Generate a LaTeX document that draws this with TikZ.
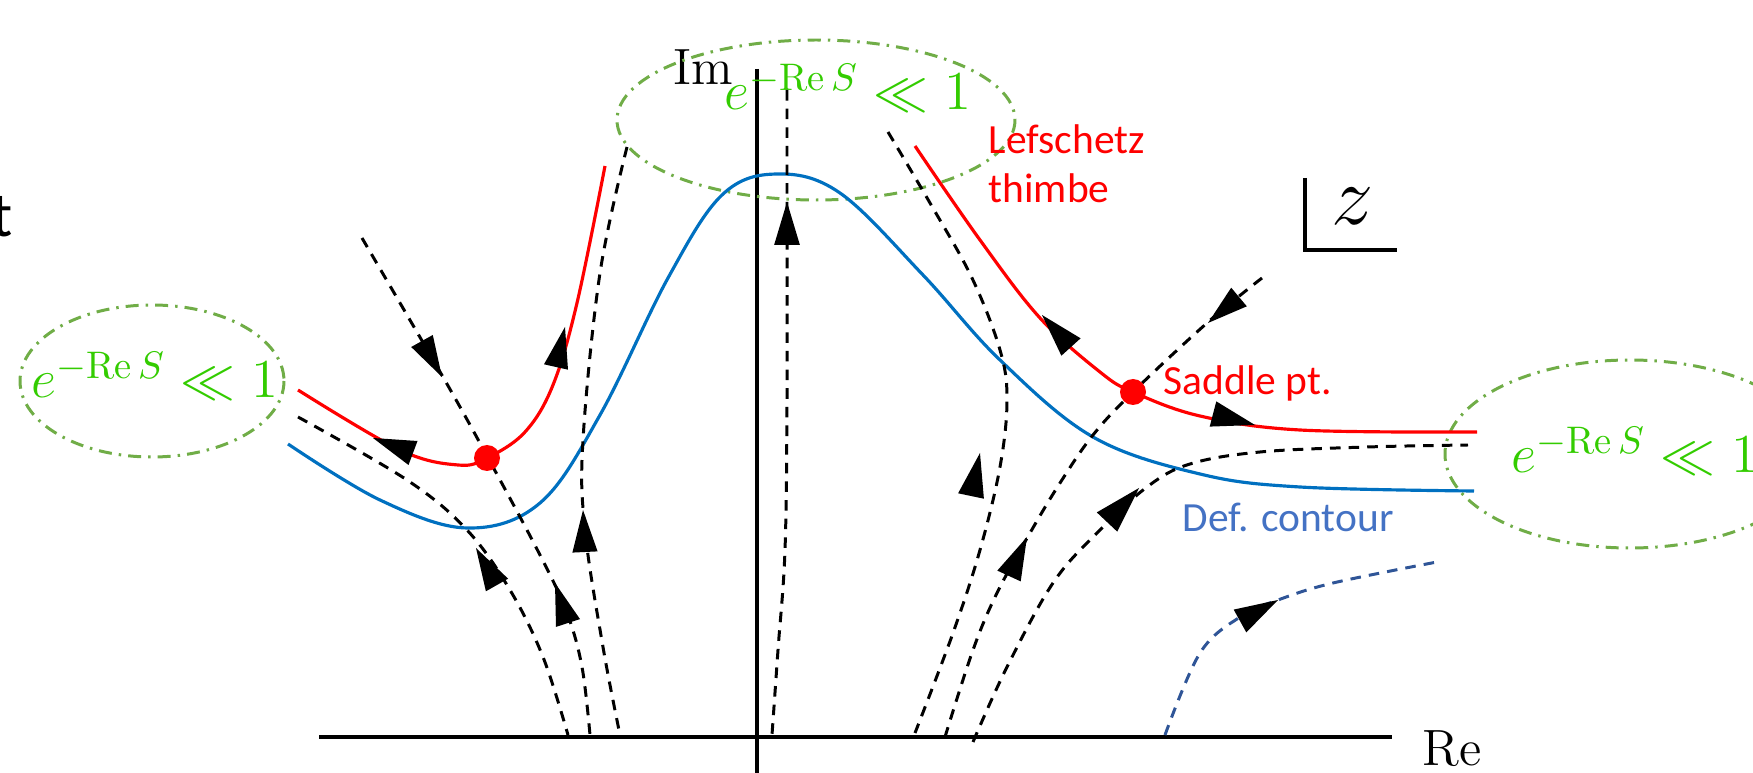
\RequirePackage{fix-cm}
\documentclass[tikz,border=0pt]{standalone}
\usepackage{fontspec}
\newfontfamily\calibri{Carlito}
\usetikzlibrary{calc}
\definecolor{thimble}{RGB}{255,0,0}
\definecolor{defblue}{RGB}{0,112,192}
\definecolor{flowblue}{RGB}{47,85,151}
\definecolor{textblue}{RGB}{68,114,196}
\definecolor{ellgreen}{RGB}{112,173,71}
\definecolor{txtgreen}{RGB}{51,204,0}
\newcommand\flowhead[2]{\fill[headfill] (#1) -- ($(#2)!0.3!90:(#1)$) -- ($(#2)!0.3!-90:(#1)$) -- cycle;}
\begin{document}
\begin{tikzpicture}[x=0.01cm,y=-0.01cm,
  axis/.style={line width=1.2pt,black},
  thimbleline/.style={line width=0.9pt,thimble},
  contourline/.style={line width=0.9pt,defblue},
  flow/.style={line width=0.85pt,black,dash pattern=on 3pt off 2.3pt},
  blueflow/.style={line width=0.85pt,flowblue,dash pattern=on 3pt off 2.3pt},
  region/.style={line width=0.85pt,ellgreen,dash pattern=on 3.7pt off 2pt on 0.7pt off 2pt},
  headfill/.style={fill=black},
  saddle/.style={circle,fill=thimble,inner sep=0pt,minimum size=26*0.01cm},
  greentext/.style={anchor=base west,inner sep=0pt,text=txtgreen,font=\fontsize{15.6}{18}\selectfont},
  label/.style={anchor=base west,inner sep=0pt,font=\calibri\fontsize{11.8}{14}\selectfont},
  axlabel/.style={anchor=base west,inner sep=0pt,font=\fontsize{14.5}{17}\selectfont},
  smoothplot/.style={smooth,tension=0.6}]
\useasboundingbox (0,0) rectangle (1753,773);
\clip (0,0) rectangle (1753,773);

% axes
\draw[axis] (319,737) -- (1392,737);
\draw[axis] (757,69) -- (757,780);
\node[axlabel] (im) at (673,85) {$\mathrm{Im}$};
\node[axlabel] (re) at (1422,765) {$\mathrm{Re}$};

% z corner
\draw[line width=1.2pt] (1305,178) -- (1305,250) -- (1397,250);
\node[anchor=base west,inner sep=0pt,font=\fontsize{24}{28}\selectfont] (zlab) at (1331,225) {$z$};

% partial text at left edge
\node[anchor=base west,inner sep=0pt,font=\calibri\fontsize{18}{21}\selectfont] (tcut) at (-9,237) {t};

% regions
\draw[region] (816,120) ellipse [x radius=199, y radius=80];
\draw[region] (152,381) ellipse [x radius=132, y radius=76];
\draw[region] (1630,454) ellipse [x radius=185, y radius=94];
\node[greentext] (gtop) at (724,110) {$e^{-\mathrm{Re}\,S}\ll 1$};
\node[greentext] (gleft) at (31,398) {$e^{-\mathrm{Re}\,S}\ll 1$};
\node[greentext] (gright) at (1511,473) {$e^{-\mathrm{Re}\,S}\ll 1$};

% deformed contour
\draw[contourline] plot[smoothplot] coordinates {(288,444) (380,500) (467,528) (540,503) (600,415) (668,278) (722,195) (777,174) (840,193) (923,275) (1000,360) (1093,437) (1200,474) (1300,487) (1474,491)};

% flows (dashed)
\draw[flow] plot[smoothplot] coordinates {(362,238) (443,377) (487,456) (540,555) (567,613) (582,667) (590,735)};
\draw[flow] plot[smoothplot] coordinates {(298,417) (407,480) (467,530) (510,590) (543,657) (568,735)};
\draw[flow] plot[smoothplot] coordinates {(627,147) (600,273) (583,440) (585,530) (603,647) (620,735)};
\draw[flow] plot[smoothplot] coordinates {(787,90) (787,200) (787,400) (785,550) (778,650) (772,735)};
\draw[flow] plot[smoothplot] coordinates {(888,132) (930,203) (972,278) (1000,350) (1007,400) (1000,467) (980,550) (953,633) (915,733)};
\draw[flow] plot[smoothplot] coordinates {(1262,278) (1207,323) (1133,392) (1093,435) (1060,483) (1030,533) (997,593) (973,650) (945,737)};
\draw[flow] plot[smoothplot] coordinates {(973,742) (1007,667) (1053,583) (1097,533) (1147,487) (1190,464) (1260,452) (1367,447) (1468,445)};
\draw[blueflow] plot[smoothplot] coordinates {(1165,735) (1200,653) (1240,617) (1278,600) (1333,583) (1437,562)};

% Lefschetz thimbles
\draw[thimbleline] plot[smoothplot] coordinates {(298,390) (400,450) (458,465) (487,458) (525,432) (553,385) (577,303) (605,166)};
\draw[thimbleline] plot[smoothplot] coordinates {(915,146) (980,240) (1040,318) (1100,372) (1133,392) (1200,416) (1300,430) (1477,432)};

% saddle points
\node[saddle] (s1) at (487,458) {};
\node[saddle] (s2) at (1133,392) {};

% arrowheads
\flowhead{373,438}{413,453}
\flowhead{565,327}{556,367}
\flowhead{442,377}{422,341}
\flowhead{555,583}{568,623}
\flowhead{476,548}{497,585}
\flowhead{583,510}{585,552}
\flowhead{787,202}{787,245}
\flowhead{980,453}{971,496}
\flowhead{1042,315}{1071,347}
\flowhead{1255,425}{1213,414}
\flowhead{1208,323}{1239,297}
\flowhead{1027,537}{1009,576}
\flowhead{1139,488}{1107,522}
\flowhead{1278,600}{1240,621}

% labels
\node[label,text=thimble,align=left] (lef) at (988,203) {Lefschetz\\thimbe};
\node[label,text=thimble] (sad) at (1163,395) {Saddle pt.};
\node[label,text=textblue] (def) at (1182,532) {Def. contour};
\end{tikzpicture}
\end{document}
